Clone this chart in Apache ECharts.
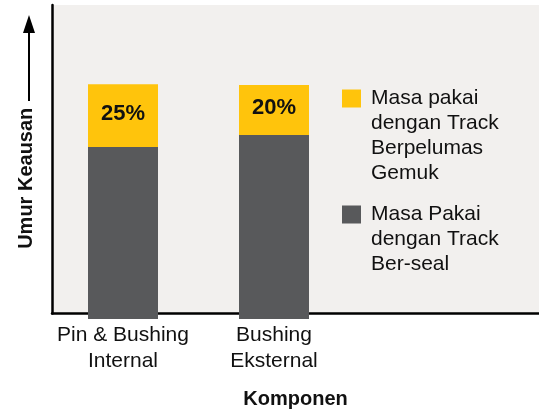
<!DOCTYPE html>
<html>
<head>
<meta charset="utf-8">
<script src="https://cdn.jsdelivr.net/npm/echarts@6/dist/echarts.min.js"></script>
<style>
html,body{margin:0;padding:0;background:#fff;}
#c{width:539px;height:414px;}
</style>
</head>
<body>
<div id="c"></div>
<script>
const categories = ['Pin & Bushing\nInternal', 'Bushing\nEksternal'];
const sealedLife = [54.8, 58.6];
const extraLife = [20.0, 15.9];
const pctLabels = ['25%', '20%'];
const seriesNames = ['Masa pakai\ndengan Track\nBerpelumas\nGemuk', 'Masa Pakai\ndengan Track\nBer-seal'];
const yAxisName = 'Umur Keausan';
const xAxisName = 'Komponen';

const FONT = "'Liberation Sans', Arial, sans-serif";
const YELLOW = '#ffc40c';
const DARK = '#58595b';
const INK = '#111111';

// prepend blank lines so the first text line sits level with the legend square
const alignFirstLine = name => '\n'.repeat(name.split('\n').length - 1) + name;

const chart = echarts.init(document.getElementById('c'), null, {renderer: 'canvas'});
chart.setOption({
  animation: false,
  textStyle: {fontFamily: FONT},
  grid: [
    {left: 52, right: 0, top: 5, bottom: 95, show: true, backgroundColor: '#f2f0ee', borderWidth: 0},
    {left: 47.5, width: 302, top: 5, bottom: 95}
  ],
  xAxis: [
    {gridIndex: 0, type: 'category', data: [''],
     axisLine: {show: true, lineStyle: {color: '#000', width: 2.5}},
     axisTick: {show: false}, axisLabel: {show: false}, splitLine: {show: false},
     name: xAxisName, nameLocation: 'middle', nameGap: 75.5,
     nameTextStyle: {fontFamily: FONT, fontSize: 20, fontWeight: 'bold', color: INK}},
    {gridIndex: 1, type: 'category', data: categories,
     axisLine: {show: false}, axisTick: {show: false},
     axisLabel: {fontFamily: FONT, fontSize: 21, lineHeight: 26, color: INK, margin: 3, interval: 0}}
  ],
  yAxis: [
    {gridIndex: 0, type: 'value', min: 0, max: 100,
     axisLine: {show: true, lineStyle: {color: '#000', width: 2.5}},
     axisTick: {show: false}, axisLabel: {show: false}, splitLine: {show: false},
     name: yAxisName, nameLocation: 'middle', nameGap: 16, nameRotate: 90,
     nameTextStyle: {fontFamily: FONT, fontSize: 20, fontWeight: 'bold', color: INK, padding: [0, 38, 0, 0]}},
    {gridIndex: 1, type: 'value', min: 0, max: 100, show: false}
  ],
  legend: [
    {data: [seriesNames[0]], left: 342, top: 11, padding: 0, orient: 'vertical',
     itemWidth: 19, itemHeight: 18, icon: 'rect', selectedMode: false,
     formatter: alignFirstLine,
     textStyle: {fontFamily: FONT, fontSize: 21, lineHeight: 25, color: INK, padding: [0, 0, 0, 5]}},
    {data: [seriesNames[1]], left: 342, top: 152, padding: 0, orient: 'vertical',
     itemWidth: 19, itemHeight: 18, icon: 'rect', selectedMode: false,
     formatter: alignFirstLine,
     textStyle: {fontFamily: FONT, fontSize: 21, lineHeight: 25, color: INK, padding: [0, 0, 0, 5]}}
  ],
  graphic: [
    {type: 'line', shape: {x1: 29, y1: 101, x2: 29, y2: 30}, style: {stroke: '#000', lineWidth: 2}, z: 10},
    {type: 'polygon', shape: {points: [[29, 15], [23, 33], [35, 33]]}, style: {fill: '#000'}, z: 10}
  ],
  series: [
    {name: seriesNames[1], type: 'bar', stack: 'life', xAxisIndex: 1, yAxisIndex: 1,
     barWidth: 70, data: sealedLife, itemStyle: {color: DARK}},
    {name: seriesNames[0], type: 'bar', stack: 'life', xAxisIndex: 1, yAxisIndex: 1,
     barWidth: 70, data: extraLife, itemStyle: {color: YELLOW},
     label: {show: true, position: 'inside', offset: [0, -2],
       formatter: p => pctLabels[p.dataIndex],
       fontFamily: FONT, fontSize: 22, fontWeight: 'bold', color: INK}}
  ]
});
</script>
</body>
</html>
